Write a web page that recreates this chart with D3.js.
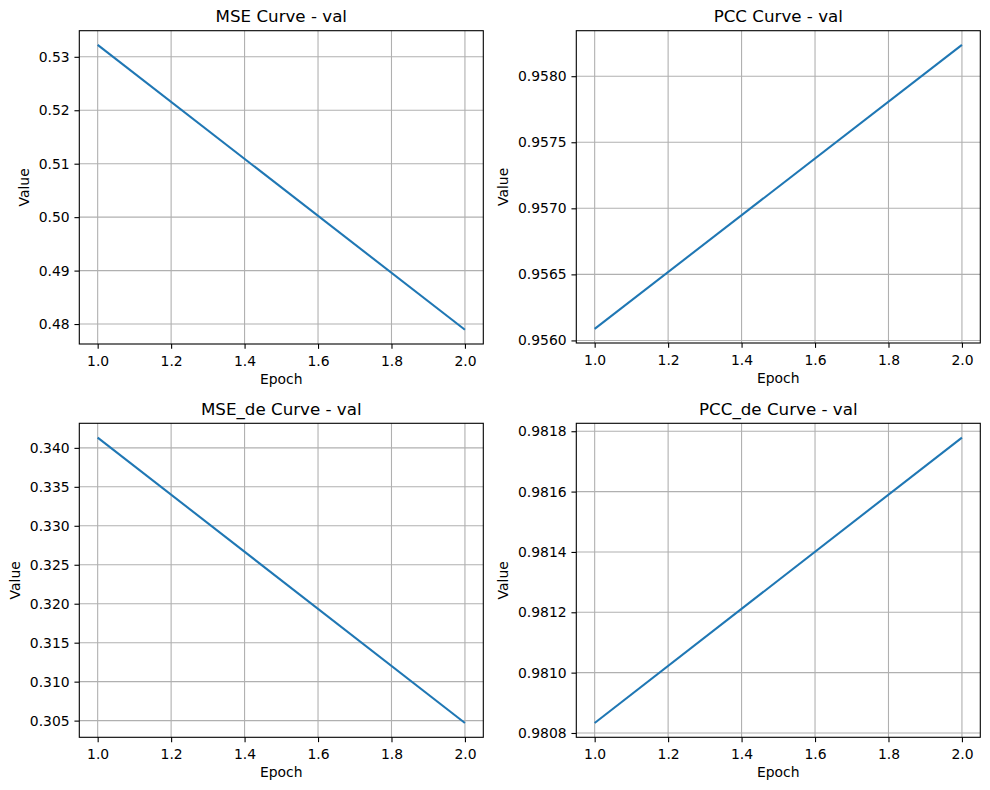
<!DOCTYPE html>
<html>
<head>
<meta charset="utf-8">
<script src="https://cdn.jsdelivr.net/npm/d3@7"></script>
<style>
body { margin: 0; background: #ffffff; }
svg { font-family: "DejaVu Sans", sans-serif; }
</style>
</head>
<body>
<script>
// values
var epochs = [1, 2];
var mseVal = [0.53222, 0.47893];
var pccVal = [0.956088, 0.958237];
var mseDeVal = [0.34132, 0.30469];
var pccDeVal = [0.980833, 0.981779];

var xTicks = [1.0, 1.2, 1.4, 1.6, 1.8, 2.0];
var mseTicks = [0.48, 0.49, 0.50, 0.51, 0.52, 0.53];
var pccTicks = [0.9560, 0.9565, 0.9570, 0.9575, 0.9580];
var mseDeTicks = [0.305, 0.310, 0.315, 0.320, 0.325, 0.330, 0.335, 0.340];
var pccDeTicks = [0.9808, 0.9810, 0.9812, 0.9814, 0.9816, 0.9818];

var titles = ["MSE Curve - val", "PCC Curve - val", "MSE_de Curve - val", "PCC_de Curve - val"];

var W = 990, H = 790;
var tickLen = 4.86, tickPad = 4.86;
var lineColor = "#1f77b4";

var svg = d3.select("body").append("svg").attr("width", W).attr("height", H);

// padded domain like matplotlib autoscale (5% margins)
function pad(ext) {
    var m = (ext[1] - ext[0]) * 0.05;
    return [ext[0] - m, ext[1] + m];
}

function addPanel(box, values, yTicks, fmt, title) {
    var x = d3.scaleLinear().domain(pad(d3.extent(epochs))).range([box.left, box.right]);
    var y = d3.scaleLinear().domain(pad(d3.extent(values))).range([box.bottom, box.top]);
    var g = svg.append("g");

    // grid
    g.selectAll(".gx").data(xTicks).enter().append("line")
        .attr("x1", function (d) { return x(d); })
        .attr("x2", function (d) { return x(d); })
        .attr("y1", box.top).attr("y2", box.bottom)
        .attr("stroke", "#b0b0b0").attr("stroke-width", 1.1);
    g.selectAll(".gy").data(yTicks).enter().append("line")
        .attr("y1", function (d) { return y(d); })
        .attr("y2", function (d) { return y(d); })
        .attr("x1", box.left).attr("x2", box.right)
        .attr("stroke", "#b0b0b0").attr("stroke-width", 1.1);

    // curve
    var line = d3.line()
        .x(function (d, i) { return x(epochs[i]); })
        .y(function (d) { return y(d); });
    g.append("path").datum(values)
        .attr("d", line)
        .attr("fill", "none")
        .attr("stroke", lineColor)
        .attr("stroke-width", 2.08);

    // axes
    var xAxis = d3.axisBottom(x).tickValues(xTicks).tickFormat(d3.format(".1f"))
        .tickSizeInner(tickLen).tickSizeOuter(0).tickPadding(tickPad);
    var gx = g.append("g").attr("transform", "translate(0," + box.bottom + ")").call(xAxis);
    var yAxis = d3.axisLeft(y).tickValues(yTicks).tickFormat(d3.format(fmt))
        .tickSizeInner(tickLen).tickSizeOuter(0).tickPadding(tickPad);
    var gy = g.append("g").attr("transform", "translate(" + box.left + ",0)").call(yAxis);
    [gx, gy].forEach(function (a) {
        a.select(".domain").remove();
        a.attr("font-family", null).attr("font-size", null);
        a.selectAll(".tick line").attr("stroke", "#000").attr("stroke-width", 1.1);
        a.selectAll(".tick text").attr("fill", "#000").style("font-size", "13.9px");
    });
    gx.selectAll(".tick text").attr("dy", null).attr("y", 22);

    // spines
    g.append("rect")
        .attr("x", box.left).attr("y", box.top)
        .attr("width", box.right - box.left).attr("height", box.bottom - box.top)
        .attr("fill", "none").attr("stroke", "#000").attr("stroke-width", 1.1);

    // labels
    var cx = (box.left + box.right) / 2;
    g.append("text").attr("x", cx).attr("y", box.top - 8.3)
        .attr("text-anchor", "middle").style("font-size", "16.7px").text(title);
    g.append("text").attr("x", cx).attr("y", box.bottom + 40)
        .attr("text-anchor", "middle").style("font-size", "13.9px").text("Epoch");
    // bbox is in the axis group's own coords, so add its offset back
    var bb = gy.node().getBBox();
    var lx = box.left + bb.x - 9.5, ly = (box.top + box.bottom) / 2;
    g.append("text")
        .attr("transform", "translate(" + lx + "," + ly + ") rotate(-90)")
        .attr("text-anchor", "middle").style("font-size", "13.9px").text("Value");
}

addPanel({left: 79.3, right: 483.3, top: 30.7, bottom: 344}, mseVal, mseTicks, ".2f", titles[0]);
addPanel({left: 576.3, right: 980.3, top: 30.7, bottom: 343}, pccVal, pccTicks, ".4f", titles[1]);
addPanel({left: 79.3, right: 483.3, top: 423.3, bottom: 737.3}, mseDeVal, mseDeTicks, ".3f", titles[2]);
addPanel({left: 576.3, right: 980.3, top: 423.3, bottom: 737.3}, pccDeVal, pccDeTicks, ".4f", titles[3]);
</script>
</body>
</html>
